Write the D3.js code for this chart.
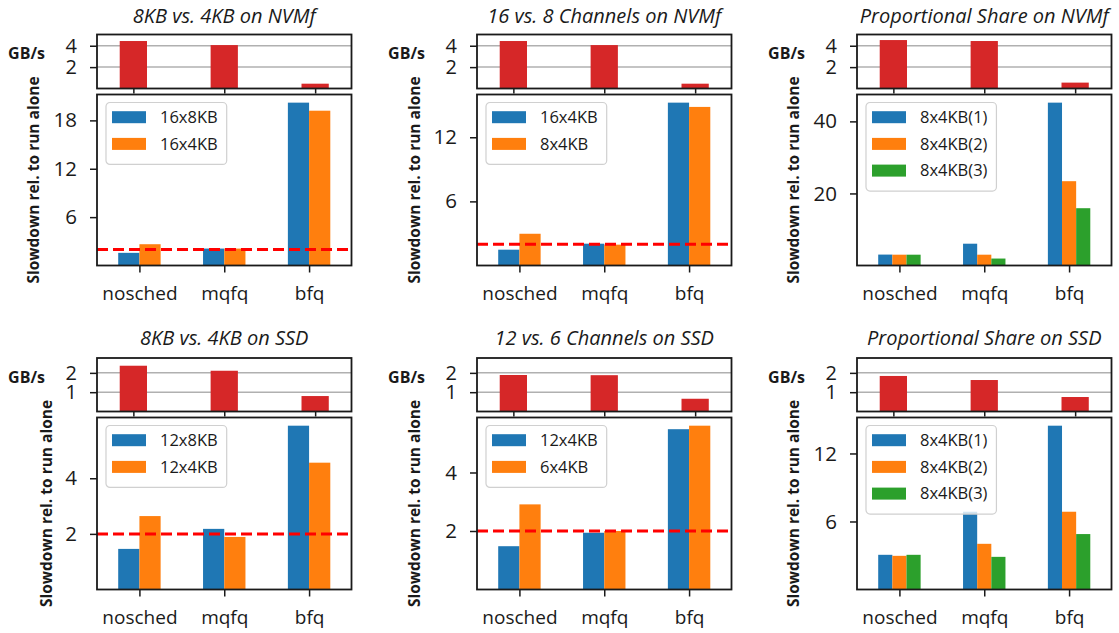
<!DOCTYPE html>
<html><head><meta charset="utf-8">
<script src="https://cdn.jsdelivr.net/npm/d3@7"></script>
<style>body{margin:0;background:#fff}svg{display:block}text{font-family:"Open Sans",sans-serif;fill:#1a1a1a}</style>
</head><body><svg id="c" width="1119" height="633"></svg>
<script>
const categories = ["nosched","mqfq","bfq"];
const titles = ["8KB vs. 4KB on NVMf","16 vs. 8 Channels on NVMf","Proportional Share on NVMf",
                "8KB vs. 4KB on SSD","12 vs. 6 Channels on SSD","Proportional Share on SSD"];
const seriesNames = [["16x8KB","16x4KB"],["16x4KB","8x4KB"],["8x4KB(1)","8x4KB(2)","8x4KB(3)"],
                     ["12x8KB","12x4KB"],["12x4KB","6x4KB"],["8x4KB(1)","8x4KB(2)","8x4KB(3)"]];
const slowdown1 = [[1.57,2.1,20.2],[2.64,2.1,19.2]];
const slowdown2 = [[1.48,2.04,15.24],[2.97,1.95,14.84]];
const slowdown3 = [[3.03,6.05,45.2],[3.0,3.0,23.4],[3.0,1.93,15.9]];
const slowdown4 = [[1.46,2.18,5.89],[2.64,1.89,4.56]];
const slowdown5 = [[1.48,1.94,5.48],[2.91,2.0,5.6]];
const slowdown6 = [[3.06,6.86,14.45],[2.97,4.03,6.86],[3.06,2.88,4.89]];
const throughput = [[4.44,4.06,0.45],[4.44,4.06,0.45],[4.53,4.44,0.55],
                    [2.37,2.11,0.80],[1.89,1.88,0.66],[1.84,1.63,0.75]];
const slowTicks = [[6,12,18],[6,12],[20,40],[2,4],[2,4],[6,12]];
const gbTicks = [[2,4],[1,2]];
const gbMax = [5.05,2.77];
const refLine = [2,2,null,2,2,null];
const colors = ["#1f77b4","#ff7f0e","#2ca02c"];
const gbColor = "#d62728";

const slowdowns = [slowdown1,slowdown2,slowdown3,slowdown4,slowdown5,slowdown6];

// layout
const colLeft = [97,477,857], W = 254.5;
const topSub = [[34.5,88.5],[358,411.5]];
const botSub = [[94.5,265.5],[417.5,589.5]];
const ylabOff = [64,63,63.5,51,63,63.5];
const titleY = [23,344.5];
const spine = "#1a1a1a";

const svg = d3.select("#c");

slowdowns.forEach((vals,i)=>{
  const r = Math.floor(i/3), c = i%3;
  const L = colLeft[c], R = L+W;
  const g = svg.append("g");

  // ---- top throughput subplot
  const [t0,t1] = topSub[r];
  const xt = d3.scaleLinear().domain([-0.4,2.4]).range([L,R]);
  const yt = d3.scaleLinear().domain([0,gbMax[r]]).range([t1,t0]);
  g.selectAll(".grid").data(gbTicks[r]).join("line")
    .attr("x1",L).attr("x2",R).attr("y1",d=>yt(d)).attr("y2",d=>yt(d))
    .attr("stroke","#b0b0b0").attr("stroke-width",1.5);
  g.selectAll(".gb").data(throughput[i]).join("rect")
    .attr("x",(d,k)=>xt(k-0.15)).attr("width",xt(0.15)-xt(-0.15))
    .attr("y",d=>yt(d)).attr("height",d=>t1-yt(d)).attr("fill",gbColor);
  const ayt = g.append("g").attr("transform",`translate(${L},0)`)
    .call(d3.axisLeft(yt).tickValues(gbTicks[r]).tickSize(7).tickPadding(13).tickFormat(d3.format("d")));
  const axt = g.append("g").attr("transform",`translate(0,${t1})`)
    .call(d3.axisBottom(xt).tickValues([0,1,2]).tickSize(5).tickFormat(""));
  [ayt,axt].forEach(a=>{a.select(".domain").remove();a.selectAll("line").attr("stroke",spine).attr("stroke-width",1.5);
    a.selectAll("text").attr("font-size",20).attr("fill","#1a1a1a").style("font-family","Open Sans");});
  g.append("rect").attr("x",L).attr("y",t0).attr("width",W).attr("height",t1-t0)
    .attr("fill","none").attr("stroke",spine).attr("stroke-width",1.8);
  g.append("text").attr("x",L-52).attr("y",r?382.5:59).attr("text-anchor","end")
    .attr("font-size",16).attr("font-weight","bold").text("GB/s");

  // ---- bottom slowdown subplot
  const [b0,b1] = botSub[r];
  const xb = d3.scaleLinear().domain([-0.5,2.5]).range([L,R]);
  const maxV = d3.max(vals.flat());
  const yb = d3.scaleLinear().domain([0,maxV*1.05]).range([b1,b0]);
  const n = vals.length, bw = 0.5/n;
  vals.forEach((s,j)=>{
    g.selectAll(".s"+j).data(s).join("rect")
      .attr("x",(d,k)=>xb(k-0.25+j*bw)).attr("width",xb(bw)-xb(0))
      .attr("y",d=>yb(d)).attr("height",d=>b1-yb(d)).attr("fill",colors[j]);
  });
  if(refLine[i]!=null){
    g.append("line").attr("x1",L).attr("x2",R).attr("y1",yb(refLine[i])).attr("y2",yb(refLine[i]))
      .attr("stroke","#ff0000").attr("stroke-width",3).attr("stroke-dasharray","11,5");
  }
  const ayb = g.append("g").attr("transform",`translate(${L},0)`)
    .call(d3.axisLeft(yb).tickValues(slowTicks[i]).tickSize(7).tickPadding(13).tickFormat(d3.format("d")));
  const axb = g.append("g").attr("transform",`translate(0,${b1})`)
    .call(d3.axisBottom(xb).tickValues([0,1,2]).tickSize(7).tickPadding(14).tickFormat(k=>categories[k]));
  [ayb,axb].forEach(a=>{a.select(".domain").remove();a.selectAll("line").attr("stroke",spine).attr("stroke-width",1.5);
    a.selectAll("text").attr("fill","#1a1a1a").style("font-family","Open Sans");});
  ayb.selectAll("text").attr("font-size",20.5);
  axb.selectAll("text").attr("font-size",19);
  g.append("rect").attr("x",L).attr("y",b0).attr("width",W).attr("height",b1-b0)
    .attr("fill","none").attr("stroke",spine).attr("stroke-width",1.8);

  // y label
  const cy = (b0+b1)/2, lx = L-ylabOff[i]+5.5;
  g.append("text").attr("transform",`translate(${lx},${cy}) rotate(-90)`).attr("text-anchor","middle")
    .attr("font-size",15.5).attr("font-weight","bold").text("Slowdown rel. to run alone");

  // title
  g.append("text").attr("x",(L+R)/2).attr("y",titleY[r]).attr("text-anchor","middle")
    .attr("font-size",20).attr("font-style","italic").text(titles[i]);

  // legend
  const lg = g.append("g").attr("transform",`translate(${L+9},${b0+8})`);
  const box = lg.append("rect").attr("rx",4).attr("fill","rgba(255,255,255,0.8)").attr("stroke","#d0d0d0").attr("stroke-width",1.2);
  let maxW = 0;
  seriesNames[i].forEach((nm,j)=>{
    const yy = 14.7 + j*26.7;
    lg.append("rect").attr("x",6).attr("y",yy-6).attr("width",34).attr("height",12).attr("fill",colors[j]);
    const t = lg.append("text").attr("x",54).attr("y",yy+5.7).attr("font-size",16.5).text(nm);
    maxW = Math.max(maxW,t.node().getComputedTextLength());
  });
  box.attr("x",0).attr("y",0).attr("width",54+maxW+9).attr("height",8+n*26.7+0.5);
});
</script></body></html>
